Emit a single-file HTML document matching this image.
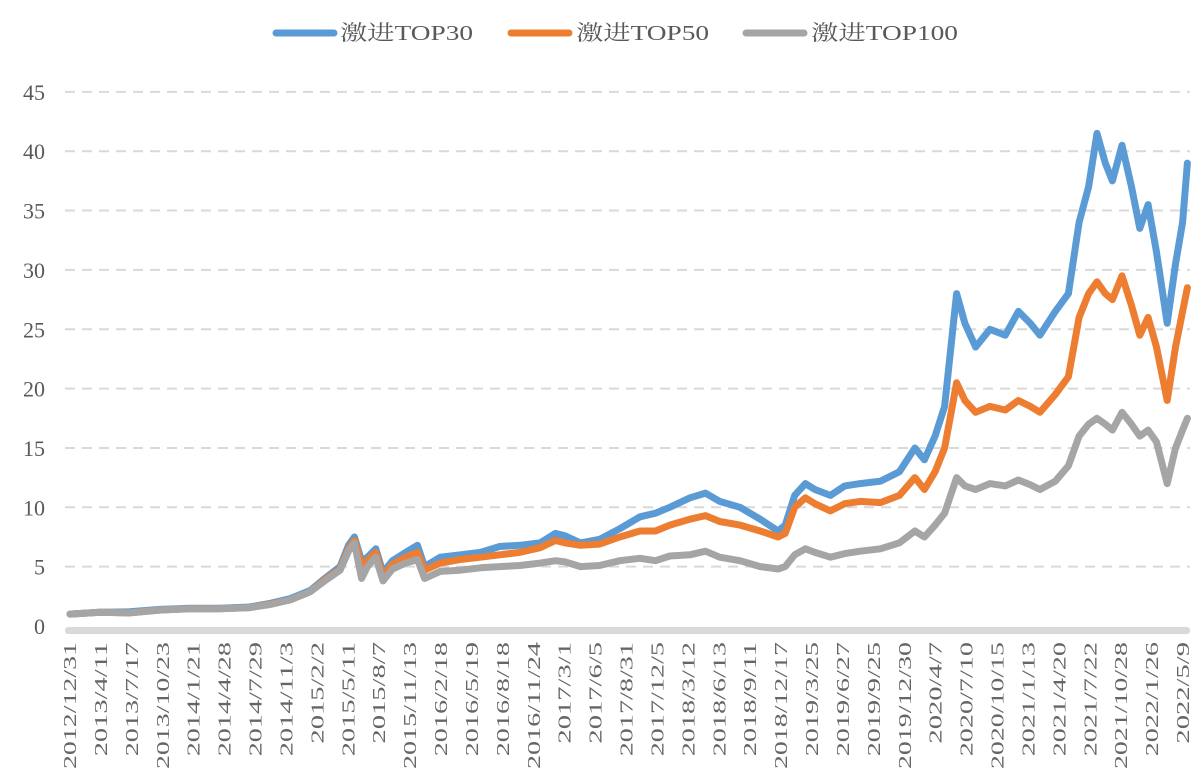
<!DOCTYPE html>
<html><head><meta charset="utf-8">
<style>
html,body{margin:0;padding:0;background:#fff;}
svg{display:block;font-family:"Liberation Serif","Noto Serif CJK SC",serif;}
</style></head>
<body>
<svg id="chart" width="1203" height="780" viewBox="0 0 1203 780" xmlns="http://www.w3.org/2000/svg">
  <g id="legend">
    <g>
      <line x1="276" y1="33" x2="334" y2="33" stroke="#5b9bd5" stroke-width="7" stroke-linecap="round"/>
      <text x="340" y="40" font-size="21" fill="#595959" textLength="133" lengthAdjust="spacingAndGlyphs">激进TOP30</text>
    </g>
    <g>
      <line x1="511" y1="33" x2="569" y2="33" stroke="#ed7d31" stroke-width="7" stroke-linecap="round"/>
      <text x="576" y="40" font-size="21" fill="#595959" textLength="133" lengthAdjust="spacingAndGlyphs">激进TOP50</text>
    </g>
    <g>
      <line x1="746" y1="33" x2="804" y2="33" stroke="#a5a5a5" stroke-width="7" stroke-linecap="round"/>
      <text x="811" y="40" font-size="21" fill="#595959" textLength="147" lengthAdjust="spacingAndGlyphs">激进TOP100</text>
    </g>
  </g>
  <g id="grid"></g>
  <g id="yaxis"></g>
  <g id="series"></g>
  <rect x="65" y="627" width="1125" height="7" rx="3" fill="#d9d9d9"/>
  <g id="xaxis"></g>
</svg>
<script>
const yTicks = [0,5,10,15,20,25,30,35,40,45];
const xLabels = ["2012/12/31","2013/4/11","2013/7/17","2013/10/23","2014/1/21","2014/4/28","2014/7/29","2014/11/3","2015/2/2","2015/5/11","2015/8/7","2015/11/13","2016/2/18","2016/5/19","2016/8/18","2016/11/24","2017/3/1","2017/6/5","2017/8/31","2017/12/5","2018/3/12","2018/6/13","2018/9/11","2018/12/17","2019/3/25","2019/6/27","2019/9/25","2019/12/30","2020/4/7","2020/7/10","2020/10/15","2021/1/13","2021/4/20","2021/7/22","2021/10/28","2022/1/26","2022/5/9"];
const times = [2013.00,2013.25,2013.50,2013.76,2014.01,2014.26,2014.51,2014.68,2014.85,2015.02,2015.14,2015.27,2015.34,2015.39,2015.45,2015.50,2015.57,2015.63,2015.71,2015.82,2015.92,2015.98,2016.11,2016.28,2016.45,2016.61,2016.78,2016.95,2017.08,2017.16,2017.29,2017.45,2017.62,2017.79,2017.92,2018.04,2018.21,2018.34,2018.46,2018.63,2018.80,2018.95,2019.01,2019.09,2019.18,2019.26,2019.39,2019.51,2019.64,2019.81,2019.97,2020.10,2020.18,2020.27,2020.35,2020.45,2020.52,2020.61,2020.73,2020.86,2020.97,2021.07,2021.15,2021.28,2021.39,2021.48,2021.56,2021.63,2021.70,2021.76,2021.84,2021.92,2021.99,2022.06,2022.13,2022.22,2022.29,2022.35,2022.39];
const top30 = [1.0,1.15,1.2,1.4,1.5,1.5,1.6,1.9,2.3,3.0,4.0,5.0,6.8,7.5,5.5,5.8,6.5,4.5,5.5,6.2,6.8,5.0,5.8,6.0,6.2,6.7,6.8,7.0,7.8,7.6,7.0,7.3,8.2,9.2,9.5,10.0,10.8,11.2,10.5,10.0,9.0,8.0,8.5,11.0,12.0,11.5,11.0,11.8,12.0,12.2,13.0,15.0,14.0,16.0,18.5,28.0,25.5,23.5,25.0,24.5,26.5,25.5,24.5,26.5,28.0,34.0,37.0,41.5,39.0,37.5,40.5,37.0,33.5,35.5,31.5,25.5,30.5,34.0,39.0];
const top50 = [1.0,1.15,1.1,1.35,1.45,1.45,1.55,1.85,2.2,2.9,3.9,4.8,6.5,7.2,5.2,5.5,6.2,4.2,5.2,5.8,6.2,4.7,5.3,5.6,5.8,6.0,6.2,6.6,7.2,7.0,6.8,6.9,7.5,8.0,8.0,8.5,9.0,9.3,8.8,8.5,8.0,7.5,7.8,10.0,10.8,10.3,9.7,10.3,10.5,10.4,11.0,12.5,11.5,13.0,15.0,20.5,19.0,18.0,18.5,18.2,19.0,18.5,18.0,19.5,21.0,26.0,28.0,29.0,28.0,27.5,29.5,27.0,24.5,26.0,23.5,19.0,23.5,26.5,28.5];
const top100 = [1.0,1.15,1.1,1.35,1.45,1.45,1.55,1.8,2.2,2.9,3.8,4.7,6.3,7.0,4.0,5.0,5.8,3.8,4.8,5.3,5.6,4.0,4.6,4.7,4.9,5.0,5.1,5.3,5.5,5.4,5.0,5.1,5.5,5.7,5.5,5.9,6.0,6.3,5.8,5.5,5.0,4.8,5.0,6.0,6.5,6.2,5.8,6.1,6.3,6.5,7.0,8.0,7.5,8.5,9.5,12.5,11.8,11.5,12.0,11.8,12.3,11.9,11.5,12.2,13.5,16.0,17.0,17.5,17.0,16.5,18.0,17.0,16.0,16.5,15.5,12.0,15.0,16.5,17.5];

const NS = "http://www.w3.org/2000/svg";
const X0 = 70, PX_PER_YEAR = 119, Y0 = 626, PX_PER_UNIT = 11.87;
function xScale(t){ return X0 + (t - 2013) * PX_PER_YEAR; }
function yScale(v){ return Y0 - v * PX_PER_UNIT; }

const grid = document.getElementById('grid');
const yaxis = document.getElementById('yaxis');
yTicks.forEach(v => {
  const y = yScale(v);
  if (v > 0) {
    const l = document.createElementNS(NS, 'line');
    l.setAttribute('x1', 65); l.setAttribute('x2', 1190);
    l.setAttribute('y1', y); l.setAttribute('y2', y);
    l.setAttribute('stroke', '#d9d9d9'); l.setAttribute('stroke-width', '2');
    l.setAttribute('stroke-dasharray', '10,7');
    
    
    grid.appendChild(l);
  }
  const t = document.createElementNS(NS, 'text');
  t.setAttribute('x', 45); t.setAttribute('y', y + 8);
  t.setAttribute('text-anchor', 'end'); t.setAttribute('font-size', '22');
  t.setAttribute('fill', '#595959');
  t.textContent = v;
  
  
  yaxis.appendChild(t);
});

const xaxis = document.getElementById('xaxis');
const step = (1183 - 70) / (xLabels.length - 1);
xLabels.forEach((s, i) => {
  const x = 70 + i * step;
  const t = document.createElementNS(NS, 'text');
  t.setAttribute('transform', `translate(${x + 6},642) rotate(-90)`);
  t.setAttribute('text-anchor', 'end'); t.setAttribute('font-size', '18');
  t.setAttribute('fill', '#666666');
  t.setAttribute('textLength', (s.length * 12.7).toFixed(1));
  t.setAttribute('lengthAdjust', 'spacingAndGlyphs');
  t.textContent = s;
  
  
  xaxis.appendChild(t);
});

const seriesG = document.getElementById('series');
function draw(vals, color, name){
  const d = vals.map((v, i) => (i ? 'L' : 'M') + xScale(times[i]).toFixed(1) + ',' + yScale(v).toFixed(1)).join(' ');
  const p = document.createElementNS(NS, 'path');
  p.setAttribute('d', d); p.setAttribute('fill', 'none');
  p.setAttribute('stroke', color); p.setAttribute('stroke-width', '7');
  p.setAttribute('stroke-linejoin', 'round'); p.setAttribute('stroke-linecap', 'round');
  
  
  seriesG.appendChild(p);
}
draw(top30, '#5b9bd5', 'series-top30-line');
draw(top50, '#ed7d31', 'series-top50-line');
draw(top100, '#a5a5a5', 'series-top100-line');
</script>
</body></html>
